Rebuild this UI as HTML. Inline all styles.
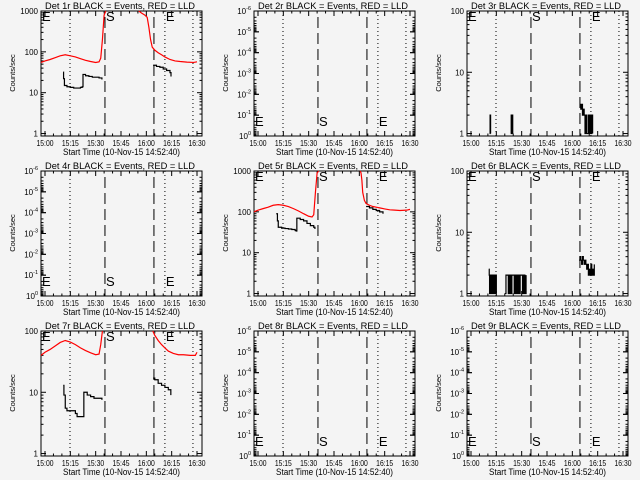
<!DOCTYPE html>
<html><head><meta charset="utf-8"><style>
html,body{margin:0;padding:0;background:#f4f4f4;}
svg{display:block;font-family:"Liberation Sans",sans-serif;}
</style></head><body>
<svg id="chart" width="640" height="480" viewBox="0 0 640 480"></svg>
<script>
// ---- data (time in minutes after 15:00, values in counts/sec) ----
const xTickLabels = ["15:00","15:15","15:30","15:45","16:00","16:15","16:30"];
const xTickMinutes = [0,15,30,45,60,75,90];
const startMarkerT = 35.5, endMarkerT = 64.5;
const dottedT = [14.8, 71, 87.6];

const p1RedT1 = [-2.4,0,3,6,9,12,15,18,21,24,27,30,32,33,34,35,36];
const p1RedV1 = [55,60,65,72,80,85,80,75,68,62,58,55,57,70,200,800,1500];
const p1RedT2 = [55.5,57,59,60.5,61.5,62.5,63.5,65,67,69,71,74,77,80,84,88,90];
const p1RedV2 = [1100,900,800,700,400,200,130,110,95,85,75,65,60,58,56,55,57];
const p1BlkT1 = [10.8,11,11.5,13,15,17,19,21,22,22.5,24,26,28,30,32,33.7];
const p1BlkV1 = [32,22,15,14,13.5,13,13,13.5,14,28,26,25,24,24,23,21];
const p1BlkT2 = [64,66,68,70,72,74,74.6];
const p1BlkV2 = [47,44,42,38,35,31,25];

const p5RedT1 = [-2.4,0,3,6,9,12,15,18,21,24,27,30,32,33,34,35,36];
const p5RedV1 = [100,110,120,130,145,150,145,135,120,105,90,78,75,85,300,900,1500];
const p5RedT2 = [60.5,61,61.5,62,63,64,66,68,70,72,75,78,81,84,88,90];
const p5RedV2 = [1100,900,600,300,190,160,145,135,130,125,118,112,110,108,110,115];
const p5BlkT1 = [10.8,11.5,12,14,16,18,20,22,22.6,23,25,27,29,31,33,33.7];
const p5BlkV1 = [90,60,42,40,39,38,37,35,34,70,65,60,52,46,42,38];
const p5BlkT2 = [64,66,68,70,72,74];
const p5BlkV2 = [135,125,115,108,100,90];

const p7RedT1 = [-2.4,0,3,6,9,12,15,18,21,24,27,30,32,33,34];
const p7RedV1 = [40,45,50,57,65,70,66,60,53,48,44,41,42,60,100];
const p7RedT2 = [63.8,65,67,69,71,73,76,79,82,86,89,90];
const p7RedV2 = [100,85,70,60,53,47,43,41,41,40,40,45];
const p7BlkT1 = [10.8,11.2,12,13,15,17,18,19,21,22,22.6,23,25,27,29,31,33.7];
const p7BlkV1 = [13,9,5.5,5,5,5,4.5,4,4,4,4,10,9,8.5,8,8,7.5];
const p7BlkT2 = [64,65,67,69,71,73,74.5];
const p7BlkV2 = [17,16,14,13,12,11,9];

const p3BlkT1 = [11.0,11.3,11.6];
const p3BlkV1 = [1,2,1];
const p3BlkT2 = [23.5,23.8,24.1,24.4,24.7];
const p3BlkV2 = [1,2,1,2,1];
const p3BlkT3 = [64.5,65,65.5,66,66.5,67,67.5,68,68.5,69,69.5,70,70.5,71,71.5,72];
const p3BlkV3 = [3,2.5,3,2,2.5,2,1,2,1,1,2,1,2,1,2,1];

const p6BlkT1 = [10.5,10.8,11,11.5,12,12.5,13,13.5,14,14.5,15];
const p6BlkV1 = [2.5,2,1,2,1,2,1,2,1,2,1];
const p6BlkT2 = [20,20.7,21.4,22.1,22.8,23.5,24.2,24.9,25.6,26.3,27,27.7,28.4,29.1,29.8,30.5,31.2,31.9,32.6];
const p6BlkV2 = [1,2,2,1,2,1,2,2,1,2,1,2,1,2,2,1,2,1,2];
const p6BlkT3 = [64,64.5,65,65.5,66,66.5,67,67.5,68,68.5,69,69.5,70,70.5,71,71.5,72,72.5,73];
const p6BlkV3 = [3.5,4,3.5,3,4,3.5,3,3.5,3,2.5,3,2,2.5,2,3,2,2.5,2,3];

const NS = "http://www.w3.org/2000/svg";
const svg = document.getElementById("chart");
function el(tag, parent, attrs){ const e=document.createElementNS(NS,tag); for(const k in attrs) e.setAttribute(k,attrs[k]); parent.appendChild(e); return e; }

const BL=41, BR=202, BT=11, BB=136;
const panels = [
 {det:1,kind:"data",lmin:-0.06,lmax:3,labels:[[1000,"1000"],[100,"100"],[10,"10"],[1,"1"]],series:[[p1RedT1,p1RedV1,"red",false],[p1RedT2,p1RedV2,"red",false],[p1BlkT1,p1BlkV1,"black",true],[p1BlkT2,p1BlkV2,"black",true]]},
 {det:2,kind:"empty"},
 {det:3,kind:"data",lmin:-0.04,lmax:2,labels:[[100,"100"],[10,"10"],[1,"1"]],series:[[p3BlkT1,p3BlkV1,"black",true],[p3BlkT2,p3BlkV2,"black",true],[p3BlkT3,p3BlkV3,"black",true]]},
 {det:4,kind:"empty"},
 {det:5,kind:"data",lmin:-0.06,lmax:3,labels:[[1000,"1000"],[100,"100"],[10,"10"],[1,"1"]],series:[[p5RedT1,p5RedV1,"red",false],[p5RedT2,p5RedV2,"red",false],[p5BlkT1,p5BlkV1,"black",true],[p5BlkT2,p5BlkV2,"black",true]]},
 {det:6,kind:"data",lmin:-0.04,lmax:2,labels:[[100,"100"],[10,"10"],[1,"1"]],series:[[p6BlkT1,p6BlkV1,"black",true],[p6BlkT2,p6BlkV2,"black",true],[p6BlkT3,p6BlkV3,"black",true]]},
 {det:7,kind:"data",lmin:-0.04,lmax:2,labels:[[100,"100"],[10,"10"],[1,"1"]],series:[[p7RedT1,p7RedV1,"red",false],[p7RedT2,p7RedV2,"red",false],[p7BlkT1,p7BlkV1,"black",true],[p7BlkT2,p7BlkV2,"black",true]]},
 {det:8,kind:"empty"},
 {det:9,kind:"empty"}
];

panels.forEach((p,i)=>{
  const ox=(i%3)*213, oy=Math.floor(i/3)*160;
  const g=el("g",svg,{transform:`translate(${ox},${oy})`});
  
  
  const xs=t=>45+t*1.689;
  let ys;
  if(p.kind==="data"){ ys=v=>{let l=Math.log10(v); l=Math.max(p.lmin,Math.min(p.lmax,l)); return BB-(l-p.lmin)/(p.lmax-p.lmin)*(BB-BT);}; }
  const ti=el("text",g,{x:45,y:9,"font-size":"9.5",textLength:"150",lengthAdjust:"spacingAndGlyphs",fill:"#000"});
  ti.textContent=`Det ${p.det}r BLACK = Events, RED = LLD`;
  
  
  const box=el("rect",g,{x:BL,y:BT,width:BR-BL,height:BB-BT,fill:"none",stroke:"#000","stroke-width":"1"});
  
  
  for(let t=0;t<=90;t+=5){ const x=xs(t); const L=(t%15===0)?5:2.5;
    el("line",g,{x1:x,x2:x,y1:BB,y2:BB-L,stroke:"#000"}); el("line",g,{x1:x,x2:x,y1:BT,y2:BT+L,stroke:"#000"}); }
  xTickMinutes.forEach((t,k)=>{ const tx=el("text",g,{x:xs(t)-8.5,y:146,"font-size":"8",textLength:"17",lengthAdjust:"spacingAndGlyphs"}); tx.textContent=xTickLabels[k];
    
     });
  const xt=el("text",g,{x:63,y:155,"font-size":"9",textLength:"117",lengthAdjust:"spacingAndGlyphs"}); xt.textContent="Start Time (10-Nov-15 14:52:40)";
  
  
  const yt=el("text",g,{x:0,y:0,"font-size":"7.5","text-anchor":"middle",transform:"translate(15,73) rotate(-90)"}); yt.textContent="Counts/sec";
  
  
  if(p.kind==="data"){
    for(let d=0; d<=Math.floor(p.lmax); d++){ for(let m=1;m<=9;m++){ const v=m*Math.pow(10,d); const l=Math.log10(v); if(l<p.lmin||l>p.lmax) continue;
      const y=ys(v); const L=m===1?5:2.5; el("line",g,{x1:BL,x2:BL+L,y1:y,y2:y,stroke:"#000"}); el("line",g,{x1:BR,x2:BR-L,y1:y,y2:y,stroke:"#000"}); } }
    p.labels.forEach(([v,s])=>{ const t=el("text",g,{x:38,y:ys(v)+3,"font-size":"8","text-anchor":"end"}); t.textContent=s;
      
       });
  } else {
    const dec=(BB-BT)/6;
    for(let d=0; d<6; d++){ for(let m=1;m<=10;m++){ const y=BT+d*dec+Math.log10(m)*dec; const L=(m===1||m===10)?5:2.5;
      el("line",g,{x1:BL,x2:BL+L,y1:y,y2:y,stroke:"#000"}); el("line",g,{x1:BR,x2:BR-L,y1:y,y2:y,stroke:"#000"}); } }
    const ex=["-6","-5","-4","-3","-2","-1","0"];
    ex.forEach((e,k)=>{ const t=el("text",g,{x:38,y:BT+k*dec+3,"font-size":"8","text-anchor":"end"});
      t.innerHTML=`10<tspan dy="-4" font-size="5.5">${e}</tspan>`;
      
       });
  }
  dottedT.forEach(t=>{ const l=el("line",g,{x1:xs(t),x2:xs(t),y1:BT,y2:BB,stroke:"#000","stroke-dasharray":"1 3"});
    
     });
  [startMarkerT,endMarkerT].forEach(t=>{ const l=el("line",g,{x1:xs(t),x2:xs(t),y1:BT+6,y2:BB,stroke:"#000","stroke-dasharray":"11 5"});
    
     });
  if(p.kind==="data"){
    p.series.forEach(([T,V,col,step])=>{
      let pts=[];
      for(let k=0;k<T.length;k++){ const x=xs(T[k]), y=ys(V[k]);
        if(step && k>0){ pts.push(x+","+ys(V[k-1])); }
        pts.push(x+","+y); }
      const pl=el("polyline",g,{points:pts.join(" "),fill:"none",stroke:col==="red"?"#ff0000":"#000","stroke-width":"1.2"});
      
      
    });
  }
  const top=p.kind==="data"; const ly=top?21:126;
  [[BL+1,"E"],[xs(startMarkerT)+1,"S"],[xs(71)+1,"E"]].forEach(([x,s])=>{
    const t=el("text",g,{x:x,y:ly,"font-size":"13"}); t.textContent=s;
    
     });
});
</script>
</body></html>
